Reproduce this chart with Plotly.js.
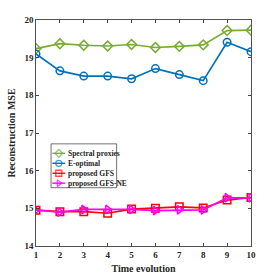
<!DOCTYPE html>
<html><head><meta charset="utf-8">
<script src="https://cdn.plot.ly/plotly-3.0.1.min.js"></script>
<style>html,body{margin:0;padding:0;background:#fff;}#chart{width:277px;height:277px;}</style>
</head><body><div id="chart"></div>
<script>
const timeSteps = [1,2,3,4,5,6,7,8,9,10];
const spectralProxies = [19.24,19.37,19.33,19.31,19.35,19.27,19.30,19.34,19.72,19.73];
const eOptimal = [19.10,18.65,18.51,18.51,18.44,18.71,18.55,18.39,19.41,19.16];
const proposedGFS = [14.95,14.91,14.91,14.87,14.98,15.00,15.04,15.01,15.22,15.29];
const proposedGFSNE = [14.95,14.90,14.97,14.97,14.97,14.94,14.96,14.96,15.28,15.28];
const seriesNames = ['Spectral proxies','E-optimal','proposed GFS','proposed GFS-NE'];
const xTicks = [1,2,3,4,5,6,7,8,9,10];
const yTicks = [14,15,16,17,18,19,20];

const colors = ['#77AC30','#0072BD','#FF0000','#FF00FF'];
const symbols = ['diamond-open','circle-open','square-open','triangle-right-open'];
const values = [spectralProxies,eOptimal,proposedGFS,proposedGFSNE];
const font = {family:'"Liberation Serif", "Times New Roman", serif', color:'#262626'};

const traces = values.map((v,i)=>({
  x: timeSteps, y: v, name: seriesNames[i], type:'scatter', mode:'lines+markers',
  line:{color:colors[i], width:1.7}, showlegend:false,
  marker:{symbol:symbols[i], size:7.5, color:colors[i], line:{color:colors[i], width:1.5}}
}));

// custom compact legend (overlay axes 0..1)
const legX0 = 0.070, legX1 = 0.375, legYTop = 0.452, legYBot = 0.258;
const sampleX = [0.076, 0.106, 0.136];
const rowY = [0.410, 0.366, 0.322, 0.278];
const shapes = [{type:'rect', xref:'paper', yref:'paper', x0:legX0, x1:legX1, y0:legYBot, y1:legYTop,
  line:{color:'#333', width:0.7}, fillcolor:'#fff', layer:'below'}];
const annotations = [];
seriesNames.forEach((n,i)=>{
  traces.push({x:sampleX, y:[rowY[i],rowY[i],rowY[i]], xaxis:'x2', yaxis:'y2', type:'scatter', mode:'lines+markers',
    showlegend:false, hoverinfo:'skip', line:{color:colors[i], width:1.4},
    marker:{symbol:symbols[i], size:[0,6,0], color:colors[i], line:{color:colors[i], width:1.3}}});
  annotations.push({xref:'paper', yref:'paper', x:0.141, y:rowY[i], xanchor:'left', yanchor:'middle', showarrow:false,
    text:n, font:Object.assign({size:7.5, weight:'bold'}, font)});
});

const layout = {
  width:277, height:277,
  margin:{l:36, r:26, t:20, b:31},
  paper_bgcolor:'#fff', plot_bgcolor:'#fff',
  font: Object.assign({size:9}, font),
  showlegend:false,
  shapes: shapes, annotations: annotations,
  xaxis:{range:[1,10], tickvals:xTicks, ticks:'inside', ticklen:3, mirror:'ticks', showline:true, linecolor:'#262626', linewidth:0.8,
    showgrid:false, zeroline:false, tickfont:Object.assign({size:9, weight:'bold'}, font),
    title:{text:'Time evolution', font:Object.assign({size:10, weight:'bold'}, font), standoff:6}},
  yaxis:{range:[14,20], tickvals:yTicks, ticks:'inside', ticklen:3, mirror:'ticks', showline:true, linecolor:'#262626', linewidth:0.8,
    showgrid:false, zeroline:false, tickfont:Object.assign({size:9, weight:'bold'}, font),
    title:{text:'Reconstruction MSE', font:Object.assign({size:10, weight:'bold'}, font), standoff:6}},
  xaxis2:{overlaying:'x', range:[0,1], visible:false, fixedrange:true},
  yaxis2:{overlaying:'y', range:[0,1], visible:false, fixedrange:true}
};
Plotly.newPlot('chart', traces, layout, {displayModeBar:false, staticPlot:true});
</script></body></html>
